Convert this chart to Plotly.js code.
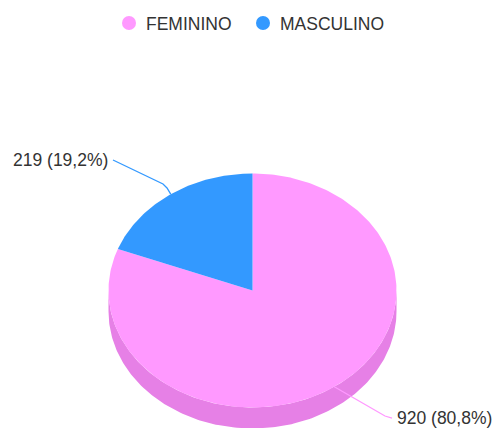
<!DOCTYPE html>
<html>
<head>
<meta charset="utf-8">
<script src="https://cdn.plot.ly/plotly-3.0.1.min.js"></script>
<style>html,body{margin:0;padding:0;background:#fff}#chart{width:493px;height:428px}</style>
</head>
<body>
<div id="chart"></div>
<script>
var categories = ['FEMININO', 'MASCULINO'];
var values = [920, 219];
var percentLabels = ['80,8%', '19,2%'];
var topColors = ['#FF99FF', '#3399FF'];
var sideColor = '#E680E6';
var textColor = '#333333';

var W = 493, H = 428;
var RX = 144, RY = 117, CX = 252.5, CY = 290.5, DEPTH = 21 / RY;
var xRange = [-CX / RX, (W - CX) / RX];
var yRange = [-(H - CY) / RY, CY / RY];
var total = values.reduce(function (a, b) { return a + b; }, 0);

function px(x) { return (x - CX) / RX; }
function py(y) { return (CY - y) / RY; }

function arc(a0, a1, dy) {
  var xs = [], ys = [], n = Math.max(2, Math.ceil(Math.abs(a1 - a0) * 60));
  for (var i = 0; i <= n; i++) {
    var a = a0 + (a1 - a0) * i / n;
    xs.push(Math.sin(a));
    ys.push(Math.cos(a) - dy);
  }
  return {x: xs, y: ys};
}

var traces = [];

// visible side of the disc: lower half of the rim
var rimTop = arc(Math.PI / 2, 3 * Math.PI / 2, 0);
var rimBottom = arc(3 * Math.PI / 2, Math.PI / 2, DEPTH);
traces.push({
  type: 'scatter', mode: 'lines', showlegend: false, hoverinfo: 'skip',
  x: rimTop.x.concat(rimBottom.x), y: rimTop.y.concat(rimBottom.y),
  fill: 'toself', fillcolor: sideColor, line: {width: 0}
});

// top face slices
var start = 0, mids = [];
values.forEach(function (v, i) {
  var end = start + v / total * 2 * Math.PI;
  var a = arc(start, end, 0);
  traces.push({
    type: 'scatter', mode: 'lines', showlegend: false, hoverinfo: 'skip',
    x: [0].concat(a.x, [0]), y: [0].concat(a.y, [0]),
    fill: 'toself', fillcolor: topColors[i], line: {width: 0}
  });
  mids.push((start + end) / 2);
  start = end;
});

// connectors from each slice's mid-angle to its label
var connectorBends = [[[385, 416], [392, 418]], [[167, 188], [163, 184], [113, 160]]];
values.forEach(function (v, i) {
  var xs = [Math.sin(mids[i])], ys = [Math.cos(mids[i])];
  connectorBends[i].forEach(function (p) { xs.push(px(p[0])); ys.push(py(p[1])); });
  traces.push({
    type: 'scatter', mode: 'lines', showlegend: false, hoverinfo: 'skip',
    x: xs, y: ys, line: {color: topColors[i], width: 1.3}
  });
});

// legend entries
categories.forEach(function (c, i) {
  traces.push({
    type: 'scatter', mode: 'markers', name: c, x: [null], y: [null],
    marker: {color: topColors[i], size: 14, symbol: 'circle'}, hoverinfo: 'skip'
  });
});

var labelPos = [[395, 417.5, 'left'], [109.5, 160, 'right']];
var annotations = values.map(function (v, i) {
  return {
    xref: 'x', yref: 'y', x: px(labelPos[i][0]), y: py(labelPos[i][1]),
    text: v + ' (' + percentLabels[i] + ')', showarrow: false,
    xanchor: labelPos[i][2], yanchor: 'middle',
    font: {family: 'Liberation Sans, Arial, sans-serif', size: 17.5, color: textColor}
  };
});

var layout = {
  width: W, height: H,
  margin: {l: 0, r: 0, t: 0, b: 0},
  paper_bgcolor: '#fff', plot_bgcolor: '#fff',
  xaxis: {visible: false, range: xRange, fixedrange: true},
  yaxis: {visible: false, range: yRange, fixedrange: true},
  showlegend: true,
  legend: {
    orientation: 'h', x: 109 / W, xanchor: 'left', y: 0.988, yanchor: 'top',
    entrywidth: 89, entrywidthmode: 'pixels',
    font: {family: 'Liberation Sans, Arial, sans-serif', size: 17.5, color: textColor},
    bgcolor: 'rgba(0,0,0,0)', traceorder: 'normal'
  },
  annotations: annotations
};

Plotly.newPlot('chart', traces, layout, {displayModeBar: false, staticPlot: true}).then(function () {
  // the reference keeps its legend text closer to the marker
  document.querySelectorAll('#chart .legendtext').forEach(function (t) {
    t.setAttribute('x', parseFloat(t.getAttribute('x')) - 3);
  });
  // fixed entry widths would otherwise clip the longer label
  document.querySelectorAll('#chart .legend .scrollbox').forEach(function (g) {
    g.removeAttribute('clip-path');
  });
});
</script>
</body>
</html>
